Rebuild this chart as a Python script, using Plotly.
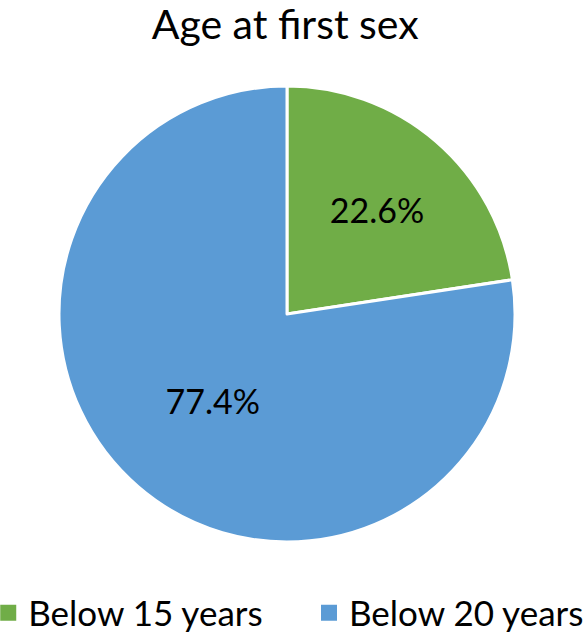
import plotly.graph_objects as go

labels = ["Below 15 years", "Below 20 years"]
values = [22.6, 77.4]
colors = ["#70AD47", "#5B9BD5"]
title = "Age at first sex"

W, H = 588, 632
B = 60                      # bottom margin holding the legend
HP = H - B                  # plot-area height
cx, cy, r = 287, 314, 228   # pie centre / radius in page pixels

fig = go.Figure(go.Pie(
    labels=labels,
    values=values,
    sort=False,
    direction="clockwise",
    rotation=0,
    marker=dict(colors=colors, line=dict(color="white", width=3)),
    texttemplate="%{percent:.1%}",
    textposition="inside",
    insidetextorientation="horizontal",
    textfont=dict(size=34, color="black", family="Lato"),
    domain=dict(x=[(cx - r) / W, (cx + r) / W],
                y=[(HP - (cy + r)) / HP, (HP - (cy - r)) / HP]),
    hoverinfo="label+percent",
    showlegend=False,
))

# legend entries (square swatches) built from the same labels/colors,
# one legend box per entry so they can sit where the reference puts them
legend_ids = ["legend", "legend2"]
for lab, col, lid in zip(labels, colors, legend_ids):
    fig.add_trace(go.Scatter(
        x=[None], y=[None], mode="markers", name=lab,
        marker=dict(symbol="square", size=16, color=col),
        showlegend=True, hoverinfo="skip", legend=lid,
    ))

leg_common = dict(orientation="h", xanchor="left", y=-(613 - HP) / HP, yanchor="middle",
                  font=dict(size=35, family="Lato", color="black"),
                  itemwidth=30, bgcolor="rgba(0,0,0,0)")

fig.update_layout(
    width=W, height=H,
    margin=dict(l=0, r=0, t=0, b=B, autoexpand=False),
    paper_bgcolor="white",
    plot_bgcolor="white",
    xaxis=dict(visible=False),
    yaxis=dict(visible=False),
    font=dict(family="Lato", color="black"),
    title=dict(text=title, x=0.485, xanchor="center", y=1 - 25 / H, yanchor="middle",
               yref="container", font=dict(size=41, family="Lato", color="black")),
    legend=dict(x=-0.02, **leg_common),
    legend2=dict(x=(321 - 12) / W, **leg_common),
    showlegend=True,
)

fig.write_html("out.html", config={"displayModeBar": False},
               post_script="document.body.style.margin='0px';document.body.style.overflow='hidden';")
